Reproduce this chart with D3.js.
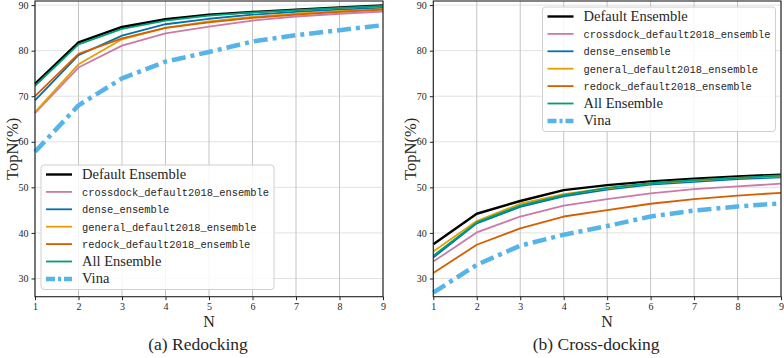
<!DOCTYPE html>
<html>
<head>
<meta charset="utf-8">
<script src="https://cdn.jsdelivr.net/npm/d3@7"></script>
<style>
  body { margin: 0; background: #fff; }
  svg { display: block; }
</style>
</head>
<body>
<svg width="784" height="358"></svg>
<script>
const svg = d3.select('svg');

// data
const nValues = [1, 2, 3, 4, 5, 6, 7, 8, 9];
const yTicks = [30, 40, 50, 60, 70, 80, 90];
const seriesNames = ['Default Ensemble', 'crossdock_default2018_ensemble', 'dense_ensemble',
  'general_default2018_ensemble', 'redock_default2018_ensemble', 'All Ensemble', 'Vina'];
const seriesColors = ['#000000', '#CC79A7', '#0072B2', '#E69F00', '#D55E00', '#009E73', '#56B4E9'];

// (a) Redocking
const redockDefault = [72.7, 81.8, 85.2, 86.9, 87.9, 88.5, 89.0, 89.5, 89.9];
const redockCrossdock = [66.3, 76.3, 81.1, 83.8, 85.3, 86.6, 87.5, 88.1, 88.6];
const redockDense = [69.1, 79.0, 83.3, 85.8, 87.0, 87.9, 88.5, 89.0, 89.4];
const redockGeneral = [66.5, 77.0, 82.5, 85.0, 86.4, 87.4, 88.1, 88.7, 89.1];
const redockRedock = [70.0, 79.3, 82.7, 85.0, 86.2, 87.2, 87.9, 88.5, 89.0];
const redockAll = [72.3, 81.4, 84.8, 86.6, 87.7, 88.4, 88.9, 89.4, 89.8];
const redockVina = [57.8, 68.0, 73.9, 77.6, 79.7, 82.0, 83.4, 84.5, 85.6];

// (b) Cross-docking
const crossDefault = [37.5, 44.2, 47.0, 49.4, 50.5, 51.3, 51.9, 52.4, 52.8];
const crossCrossdock = [33.7, 40.1, 43.6, 46.0, 47.4, 48.7, 49.6, 50.2, 50.8];
const crossDense = [34.6, 42.1, 45.7, 48.0, 49.5, 50.6, 51.2, 51.8, 52.2];
const crossGeneral = [35.9, 42.6, 46.4, 48.5, 49.8, 50.9, 51.5, 52.1, 52.4];
const crossRedock = [31.2, 37.4, 41.0, 43.6, 45.0, 46.4, 47.4, 48.2, 48.8];
const crossAll = [35.0, 42.3, 46.0, 48.3, 49.9, 50.9, 51.6, 52.1, 52.6];
const crossVina = [26.9, 33.0, 37.2, 39.6, 41.5, 43.6, 44.9, 45.8, 46.5];

const serif = '"Liberation Serif", "DejaVu Serif", serif';
const mono = '"Liberation Mono", "DejaVu Sans Mono", monospace';
const textColor = '#262626';

const plotTop = 1, plotBottom = 296.7;
const y = d3.scaleLinear().domain([26, 90.9]).range([plotBottom, plotTop]);

function drawPanel(x0, x1, series, legendX, legendY, caption) {
  const x = d3.scaleLinear().domain([1, 9]).range([x0, x1]);
  const g = svg.append('g');

  // grid
  g.append('g').selectAll('line').data(yTicks).join('line')
    .attr('x1', x0).attr('x2', x1)
    .attr('y1', d => y(d)).attr('y2', d => y(d))
    .attr('stroke', '#e2e2e2').attr('stroke-width', 1);
  g.append('g').selectAll('line').data(nValues).join('line')
    .attr('x1', d => x(d)).attr('x2', d => x(d))
    .attr('y1', plotTop).attr('y2', plotBottom)
    .attr('stroke', '#c4c4c4').attr('stroke-width', 1);

  // lines
  const line = d3.line().x((d, i) => x(nValues[i])).y(d => y(d));
  series.forEach((vals, i) => {
    const isVina = i === 6;
    g.append('path')
      .attr('d', line(vals))
      .attr('fill', 'none')
      .attr('stroke', seriesColors[i])
      .attr('stroke-width', isVina ? 4.5 : (i === 0 ? 2.4 : 1.8))
      .attr('stroke-dasharray', isVina ? '14,5,4,5' : null)
      .attr('stroke-linejoin', 'round');
  });

  // spines
  g.append('rect')
    .attr('x', x0).attr('y', plotTop)
    .attr('width', x1 - x0).attr('height', plotBottom - plotTop)
    .attr('fill', 'none').attr('stroke', '#222').attr('stroke-width', 1.1);

  // axes
  const xAxis = g.append('g').attr('transform', `translate(0,${plotBottom})`)
    .call(d3.axisBottom(x).tickValues(nValues).tickFormat(d3.format('d')).tickSize(3.5).tickPadding(3));
  const yAxis = g.append('g').attr('transform', `translate(${x0},0)`)
    .call(d3.axisLeft(y).tickValues(yTicks).tickSize(3.5).tickPadding(3));
  [xAxis, yAxis].forEach(a => {
    a.select('.domain').remove();
    a.selectAll('line').attr('stroke', '#222');
    a.selectAll('text').attr('font-family', serif).attr('font-size', 10).attr('fill', textColor);
  });

  // axis labels
  g.append('text')
    .attr('x', (x0 + x1) / 2).attr('y', 327)
    .attr('text-anchor', 'middle')
    .attr('font-family', serif).attr('font-size', 16).attr('fill', textColor)
    .text('N');
  g.append('text')
    .attr('transform', `translate(${x0 - 17},${(plotTop + plotBottom) / 2}) rotate(-90)`)
    .attr('text-anchor', 'middle')
    .attr('font-family', serif).attr('font-size', 16.5).attr('fill', textColor)
    .text('TopN(%)');

  // caption
  g.append('text')
    .attr('x', (x0 + x1) / 2 - 11).attr('y', 350)
    .attr('text-anchor', 'middle')
    .attr('font-family', serif).attr('font-size', 17.5).attr('fill', textColor)
    .text(caption);

  // legend
  const rowH = 17.4;
  const lg = g.append('g').attr('transform', `translate(${legendX},${legendY})`);
  lg.append('rect')
    .attr('x', 0).attr('y', 0)
    .attr('width', 233).attr('height', 124.5)
    .attr('rx', 3)
    .attr('fill', 'white').attr('fill-opacity', 0.85)
    .attr('stroke', '#d0d0d0').attr('stroke-width', 1);
  seriesNames.forEach((name, i) => {
    const cy = 9.5 + i * rowH;
    const isVina = i === 6;
    lg.append('line')
      .attr('x1', 5).attr('x2', 31)
      .attr('y1', cy).attr('y2', cy)
      .attr('stroke', seriesColors[i])
      .attr('stroke-width', isVina ? 4.5 : (i === 0 ? 2.4 : 1.8))
      .attr('stroke-dasharray', isVina ? '9,3,3,3' : null);
    const isMono = name.includes('_');
    lg.append('text')
      .attr('x', 41).attr('y', cy + 4)
      .attr('font-family', isMono ? mono : serif)
      .attr('font-size', isMono ? 10.4 : 14.5)
      .attr('fill', textColor)
      .text(name);
  });
}

drawPanel(35, 383,
  [redockDefault, redockCrossdock, redockDense, redockGeneral, redockRedock, redockAll, redockVina],
  41, 165, '(a) Redocking');
drawPanel(433.3, 781,
  [crossDefault, crossCrossdock, crossDense, crossGeneral, crossRedock, crossAll, crossVina],
  542.5, 7, '(b) Cross-docking');
</script>
</body>
</html>
